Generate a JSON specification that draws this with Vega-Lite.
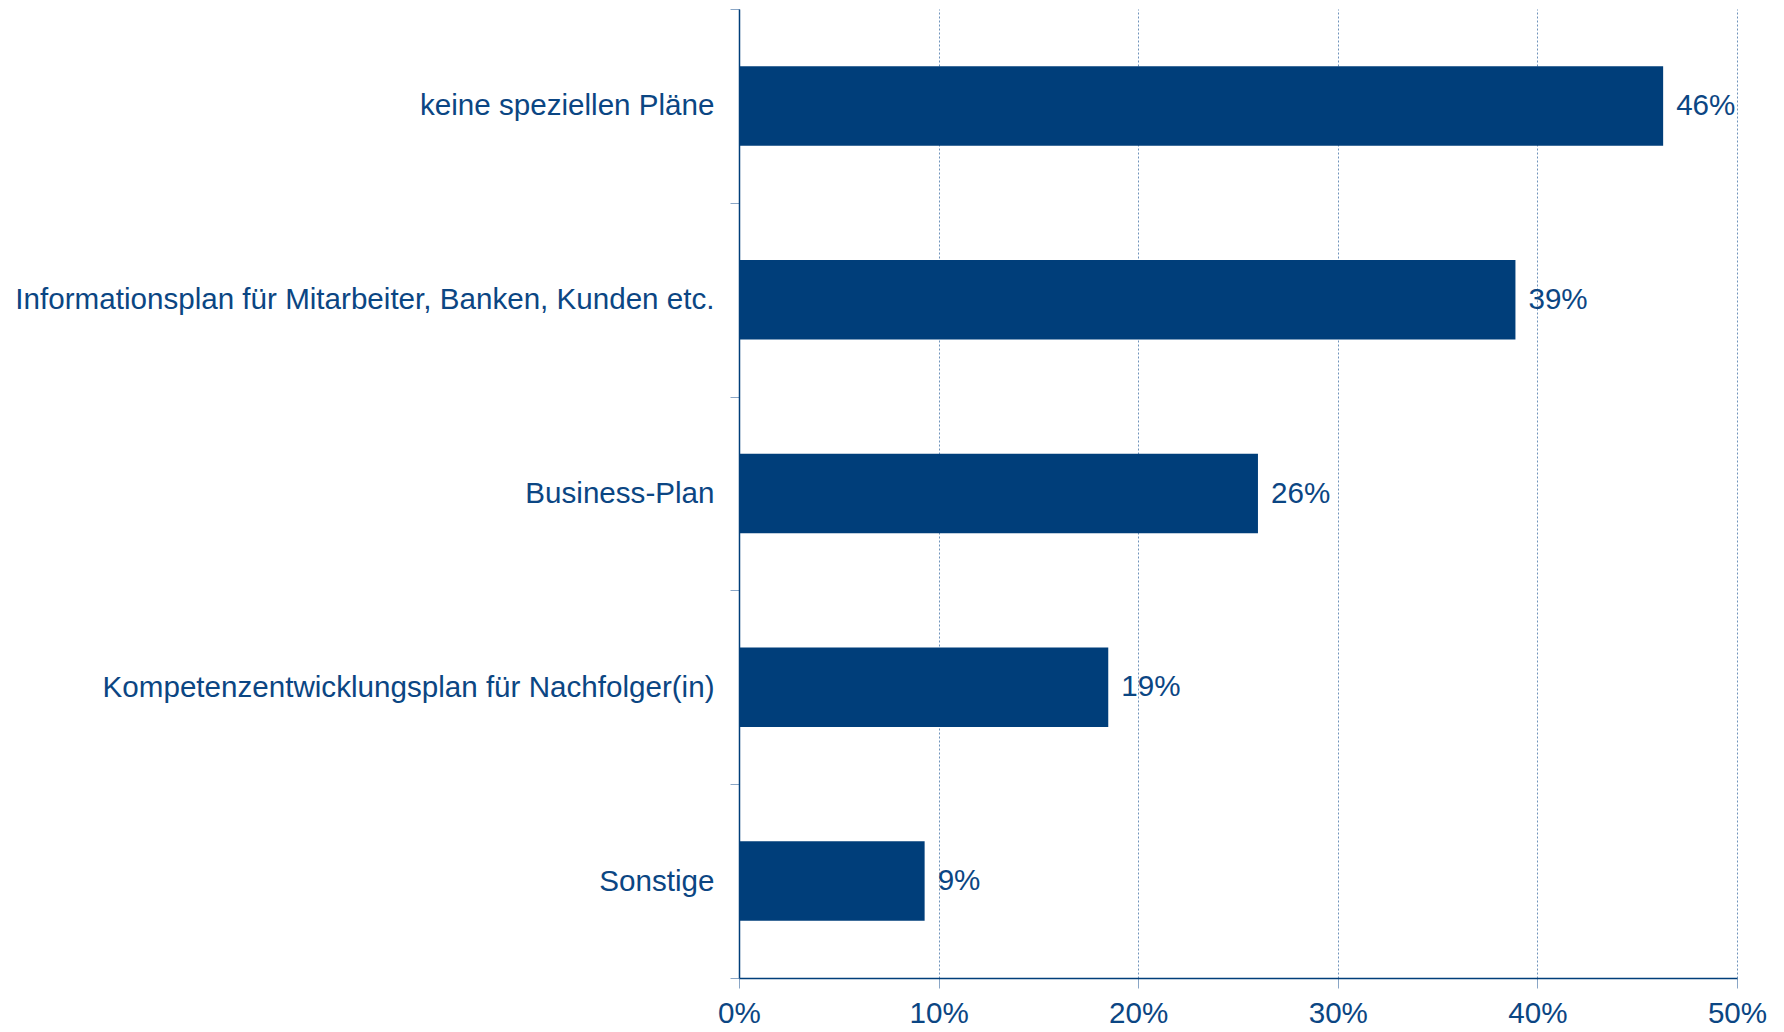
{
  "$schema": "https://vega.github.io/schema/vega-lite/v6.json",
  "autosize": {"type": "none"},
  "width": 998,
  "height": 969,
  "padding": {"left": 739, "top": 9, "right": 47, "bottom": 54},
  "background": "white",
  "data": {
    "values": [
      {"kategorie": "keine speziellen Pläne", "wert": 46.3, "label": "46%"},
      {"kategorie": "Informationsplan für Mitarbeiter, Banken, Kunden etc.", "wert": 38.9, "label": "39%"},
      {"kategorie": "Business-Plan", "wert": 26.0, "label": "26%"},
      {"kategorie": "Kompetenzentwicklungsplan für Nachfolger(in)", "wert": 18.5, "label": "19%"},
      {"kategorie": "Sonstige", "wert": 9.3, "label": "9%"}
    ]
  },
  "config": {
    "view": {"stroke": null},
    "font": "Liberation Sans"
  },
  "encoding": {
    "y": {
      "field": "kategorie",
      "type": "nominal",
      "sort": null,
      "title": null,
      "scale": {"paddingInner": 0, "paddingOuter": 0},
      "axis": {
        "domainColor": "#003e7a",
        "domainWidth": 1.5,
        "tickBand": "extent",
        "tickColor": "#8aa6c6",
        "tickSize": 9,
        "labelFont": "Liberation Sans",
        "labelFontSize": 29.6,
        "labelColor": "#0b4683",
        "labelPadding": 16,
        "labelLimit": 800,
        "grid": false
      }
    },
    "x": {
      "field": "wert",
      "type": "quantitative",
      "title": null,
      "scale": {"domain": [0, 50], "nice": false},
      "axis": {
        "values": [0, 10, 20, 30, 40, 50],
        "labelExpr": "datum.value + '%'",
        "labelFlush": false,
        "domainColor": "#003e7a",
        "domainWidth": 1.5,
        "tickColor": "#8aa6c6",
        "tickSize": 10,
        "labelFont": "Liberation Sans",
        "labelFontSize": 29.6,
        "labelColor": "#0b4683",
        "labelPadding": 11,
        "grid": true,
        "gridColor": "#6f93bb",
        "gridDash": [2, 2],
        "gridWidth": 1
      }
    }
  },
  "layer": [
    {
      "mark": {"type": "bar", "color": "#003e7a", "height": {"band": 0.41}}
    },
    {
      "mark": {"type": "text", "align": "left", "baseline": "middle", "dx": 13, "fontSize": 29.6, "color": "#0b4683", "font": "Liberation Sans"},
      "encoding": {"text": {"field": "label"}}
    }
  ]
}
